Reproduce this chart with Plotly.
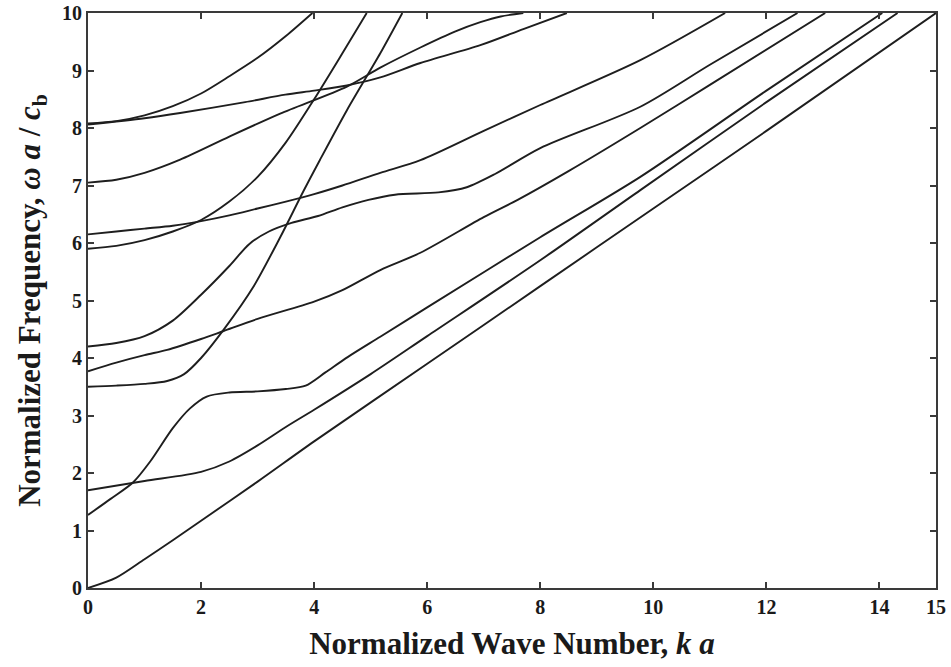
import plotly.graph_objects as go

# Normalized wave number k*a and normalized frequency w*a/c_b for each branch
k_m1 = [0, 0.5, 1, 1.5, 2, 3, 4, 6, 8, 10, 12, 15]
w_m1 = [0, 0.18, 0.5, 0.83, 1.17, 1.85, 2.55, 3.9, 5.25, 6.6, 7.95, 10]

k_m2 = [0, 1, 2, 2.5, 3, 3.5, 4, 5, 6, 8, 9.77, 12, 14.32]
w_m2 = [1.7, 1.86, 2.02, 2.2, 2.48, 2.8, 3.1, 3.72, 4.38, 5.7, 6.92, 8.45, 10]

k_m3 = [0, 0.4, 0.8, 1.1, 1.5, 1.8, 2.1, 2.5, 3, 3.5, 3.85, 4.2, 4.6, 5.17, 6, 8, 9.77, 12, 14.05]
w_m3 = [1.27, 1.55, 1.84, 2.2, 2.78, 3.12, 3.33, 3.4, 3.42, 3.46, 3.52, 3.75, 4.02, 4.37, 4.88, 6.1, 7.15, 8.65, 10]

k_m4 = [0, 0.5, 1, 1.4, 2, 2.4, 3, 4, 4.5, 5.17, 5.88, 7, 7.6, 8.5, 9.77, 11, 13.04]
w_m4 = [3.77, 3.92, 4.05, 4.14, 4.33, 4.47, 4.68, 4.98, 5.18, 5.53, 5.83, 6.45, 6.75, 7.25, 8.0, 8.75, 10]

k_m5 = [0, 0.5, 1, 1.4, 1.7, 2.0, 2.42, 2.92, 3.4, 3.81, 4.1, 4.58, 5.17, 5.56]
w_m5 = [3.5, 3.52, 3.55, 3.6, 3.72, 4.0, 4.52, 5.23, 6.1, 6.9, 7.44, 8.31, 9.3, 10]

k_m6 = [0, 0.5, 1, 1.5, 2, 2.5, 2.85, 3.2, 3.6, 4.07, 4.5, 4.96, 5.43, 6.2, 6.7, 7.2, 8, 9.77, 11, 12.55]
w_m6 = [4.2, 4.26, 4.38, 4.65, 5.1, 5.6, 5.98, 6.2, 6.35, 6.47, 6.62, 6.75, 6.84, 6.88, 6.97, 7.2, 7.65, 8.37, 9.1, 10]

k_m7 = [0, 0.5, 1, 1.5, 2, 2.5, 3, 3.5, 4, 4.5, 4.93]
w_m7 = [5.9, 5.95, 6.05, 6.2, 6.4, 6.72, 7.15, 7.75, 8.5, 9.3, 10]

k_m8 = [0, 0.5, 1, 1.5, 2, 2.5, 3, 3.5, 4, 4.5, 5.17, 5.88, 7, 8, 9.77, 11.27]
w_m8 = [6.15, 6.2, 6.25, 6.3, 6.38, 6.48, 6.6, 6.72, 6.85, 7.0, 7.22, 7.44, 7.95, 8.4, 9.18, 10]

k_m9 = [0, 0.5, 1, 1.63, 2.5, 3.4, 4.58, 5.17, 5.88, 6.5, 6.94, 7.3, 7.7]
w_m9 = [7.05, 7.1, 7.22, 7.45, 7.85, 8.25, 8.72, 9.05, 9.4, 9.68, 9.84, 9.94, 10]

k_m10 = [0, 1, 1.63, 2.78, 3.49, 4, 4.58, 5.17, 5.88, 6.94, 7.7, 8.47]
w_m10 = [8.06, 8.17, 8.26, 8.45, 8.58, 8.65, 8.74, 8.88, 9.13, 9.44, 9.72, 10]

k_m11 = [0, 0.5, 1, 1.5, 2, 2.5, 3, 3.5, 3.97]
w_m11 = [8.08, 8.12, 8.22, 8.38, 8.6, 8.9, 9.22, 9.6, 10]

x_ticks = [0, 2, 4, 6, 8, 10, 12, 14, 15]
y_ticks = [0, 1, 2, 3, 4, 5, 6, 7, 8, 9, 10]

branches = [(k_m1, w_m1), (k_m2, w_m2), (k_m3, w_m3), (k_m4, w_m4), (k_m5, w_m5),
            (k_m6, w_m6), (k_m7, w_m7), (k_m8, w_m8), (k_m9, w_m9), (k_m10, w_m10),
            (k_m11, w_m11)]

fig = go.Figure()
for kk, ww in branches:
    fig.add_trace(go.Scatter(x=kk, y=ww, mode="lines",
                             line=dict(color="#1e1e1e", width=1.9, shape="spline", smoothing=0.8),
                             showlegend=False, hoverinfo="skip"))

font_serif = "Liberation Serif, Times New Roman, serif"
axis_common = dict(showline=True, linecolor="#3a3a3a", linewidth=2, mirror="ticks",
                   ticks="inside", ticklen=6, tickwidth=1.5, tickcolor="#3a3a3a",
                   showgrid=False, zeroline=False,
                   tickfont=dict(family=font_serif, size=20, color="#1a1a1a", weight="bold"))

fig.update_xaxes(range=[0, 15], tickvals=x_ticks, ticktext=[str(t) for t in x_ticks],
                 title=dict(text="Normalized Wave Number, <i>k a</i>",
                            font=dict(family=font_serif, size=31, color="#1a1a1a", weight="bold"),
                            standoff=15),
                 **axis_common)
fig.update_yaxes(range=[0, 10], tickvals=y_ticks, ticktext=[str(t) for t in y_ticks],
                 title=dict(text="Normalized Frequency, <i>ω a</i> / <i>c</i><sub>b</sub>",
                            font=dict(family=font_serif, size=31, color="#1a1a1a", weight="bold"),
                            standoff=12),
                 **axis_common)

fig.update_layout(width=951, height=667,
                  margin=dict(l=88, r=15, t=13, b=79, autoexpand=False),
                  paper_bgcolor="white", plot_bgcolor="white")

fig.write_html("out.html")
